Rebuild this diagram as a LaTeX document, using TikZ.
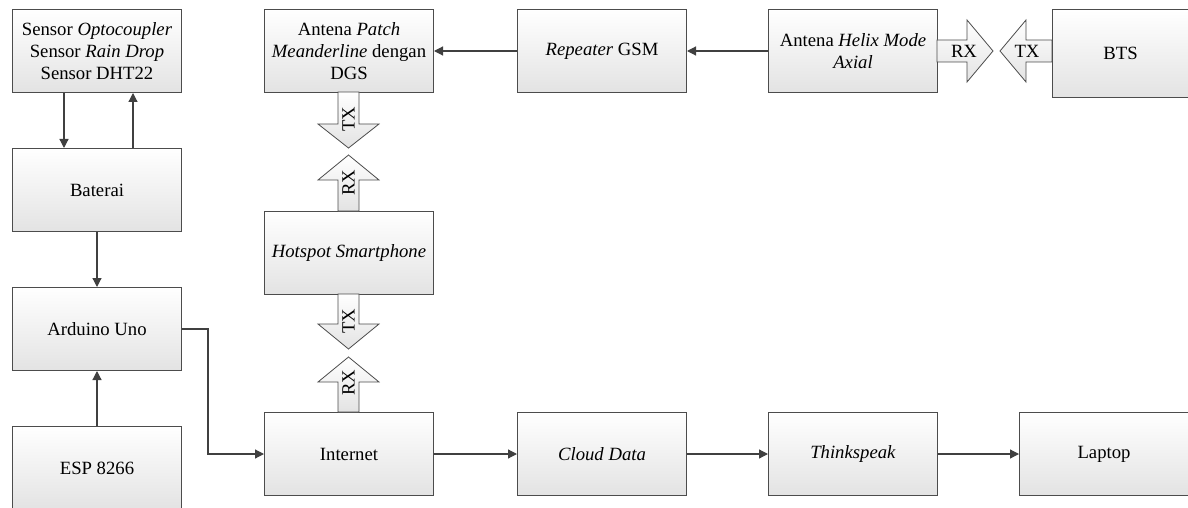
\documentclass[tikz,border=0pt]{standalone}
\usepackage{fontspec}
\setmainfont{Liberation Serif}
\newfontfamily\tnrfont{Liberation Serif}
\usetikzlibrary{arrows.meta}
\begin{document}
\begin{tikzpicture}[x=1pt,y=-1pt,
  font=\tnrfont\fontsize{18.7}{21.8}\selectfont,
  box/.style={draw=black!70, line width=1pt, top color=white, bottom color=black!11,
    minimum width=169pt, minimum height=83pt, inner sep=0pt, align=center, anchor=north west},
  conn/.style={draw=black!75, line width=1.2pt, -{Triangle[length=9pt,width=9pt]}},
  barrow/.style={draw=black!70, line width=0.8pt, top color=white, bottom color=black!11},
  blabel/.style={inner sep=0pt}]
\useasboundingbox (0,0) rectangle (1188,508);

% boxes
\node[box] (sensor) at (12,9) {Sensor \textit{Optocoupler}\\Sensor \textit{Rain Drop}\\Sensor DHT22};
\node[box] (bat) at (12,148) {Baterai};
\node[box] (ard) at (12,287) {Arduino Uno};
\node[box] (esp) at (12,426) {ESP 8266};
\node[box] (patch) at (264,9) {Antena \textit{Patch}\\\textit{Meanderline} dengan\\DGS};
\node[box] (hot) at (264,211) {\textit{Hotspot Smartphone}};
\node[box] (inet) at (264,412) {Internet};
\node[box] (rep) at (517,9) {\textit{Repeater} GSM};
\node[box] (cloud) at (517,412) {\textit{Cloud Data}};
\node[box] (helix) at (768,9) {Antena \textit{Helix Mode}\\\textit{Axial}};
\node[box] (think) at (768,412) {\textit{Thinkspeak}};
\node[box] (lap) at (1019,412) {Laptop};
\node[box, minimum width=136pt, minimum height=88pt] (bts) at (1052,9) {BTS};

% connectors
\draw[conn] ([xshift=-33pt]sensor.south) -- ([xshift=-33pt]bat.north);
\draw[conn] ([xshift=36pt]bat.north) -- ([xshift=36pt]sensor.south);
\draw[conn] (bat.south) -- (ard.north);
\draw[conn] (esp.north) -- (ard.south);
\coordinate (bend) at (208,0);
\draw[conn] (ard.east) -- (ard.east -| bend) |- (inet.west);
\draw[conn] (rep.west) -- (patch.east);
\draw[conn] (helix.west) -- (rep.east);
\draw[conn] (inet.east) -- (cloud.west);
\draw[conn] (cloud.east) -- (think.west);
\draw[conn] (think.east) -- (lap.west);

% block arrows
\path[barrow] (338,92) -- (338,124) -- (318,124) -- (348.5,148) -- (379,124) -- (359,124) -- (359,92) -- cycle;
\path[barrow] (338,211) -- (338,180) -- (318,180) -- (348.5,155) -- (379,180) -- (359,180) -- (359,211) -- cycle;
\path[barrow] (338,294) -- (338,324) -- (318,324) -- (348.5,349) -- (379,324) -- (359,324) -- (359,294) -- cycle;
\path[barrow] (338,412) -- (338,382) -- (318,382) -- (348.5,357) -- (379,382) -- (359,382) -- (359,412) -- cycle;
\path[barrow] (937,40) -- (967,40) -- (967,20) -- (993,51) -- (967,82) -- (967,62) -- (937,62) -- cycle;
\path[barrow] (1052,40) -- (1026,40) -- (1026,20) -- (1000,51) -- (1026,82) -- (1026,62) -- (1052,62) -- cycle;

\node[blabel, rotate=90] (tx1) at (348.5,119) {TX};
\node[blabel, rotate=90] (rx1) at (348.5,183) {RX};
\node[blabel, rotate=90] (tx2) at (348.5,321) {TX};
\node[blabel, rotate=90] (rx2) at (348.5,383) {RX};
\node[blabel] (rx3) at (964,51) {RX};
\node[blabel] (tx3) at (1027,51) {TX};
\end{tikzpicture}
\end{document}
